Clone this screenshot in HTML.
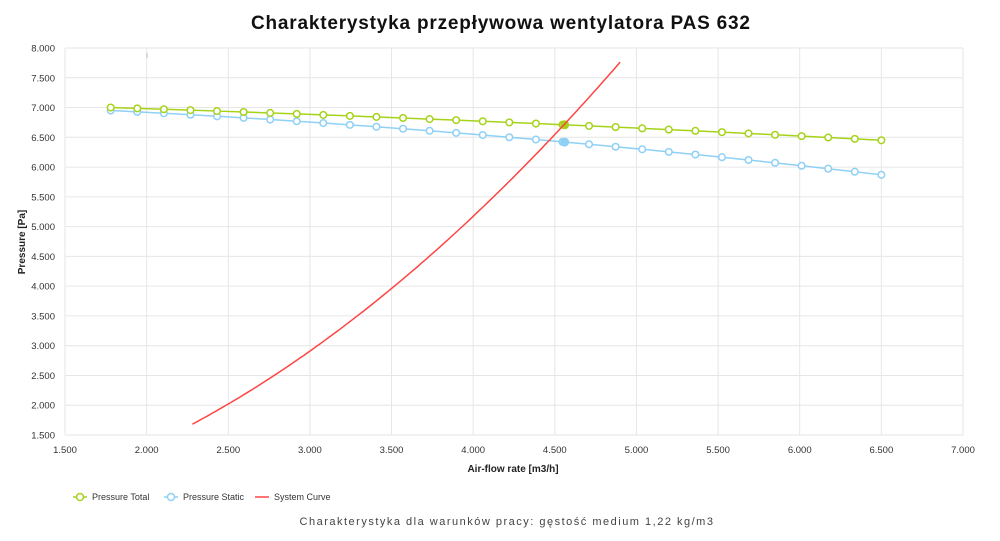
<!DOCTYPE html>
<html><head><meta charset="utf-8"><style>
html,body{margin:0;padding:0;background:#fff;}
svg{display:block;font-family:"Liberation Sans","DejaVu Sans",sans-serif;}
</style></head><body>
<svg id="s" width="1000" height="541" xmlns="http://www.w3.org/2000/svg">
<text x="251" y="29" font-size="19" font-weight="bold" fill="#111" textLength="499" lengthAdjust="spacing">Charakterystyka przepływowa wentylatora PAS 632</text>
<g id="grid"></g>
<g id="series"></g>
<text x="0" y="0" transform="translate(25,242) rotate(-90)" text-anchor="middle" font-size="10" font-weight="bold" fill="#222">Pressure [Pa]</text>
<text x="513" y="472" text-anchor="middle" font-size="10" font-weight="bold" fill="#222">Air-flow rate [m3/h]</text>
<g font-size="9" fill="#333">
<line x1="73" y1="497" x2="87" y2="497" stroke="#a6d31a" stroke-width="1.5"/><circle cx="80" cy="497" r="3.5" fill="#fff" stroke="#a6d31a" stroke-width="1.5"/>
<text x="92" y="500">Pressure Total</text>
<line x1="164" y1="497" x2="178" y2="497" stroke="#8fd0f5" stroke-width="1.5"/><circle cx="171" cy="497" r="3.5" fill="#fff" stroke="#8fd0f5" stroke-width="1.5"/>
<text x="183" y="500">Pressure Static</text>
<line x1="255" y1="497" x2="269" y2="497" stroke="#f44" stroke-width="1.5"/>
<text x="274" y="500">System Curve</text>
</g>
<text x="507" y="525" text-anchor="middle" font-size="11" fill="#444" letter-spacing="1.5">Charakterystyka dla warunków pracy: gęstość medium 1,22 kg/m3</text>
</svg>
<script>
var NS="http://www.w3.org/2000/svg";
function X(v){return 65+(v-1500)*898/5500;}
function Y(v){return 48+(8000-v)*387/6500;}
function el(p,t,a){var e=document.createElementNS(NS,t);for(var k in a)e.setAttribute(k,a[k]);p.appendChild(e);return e;}
function fmt(v){return (v/1000).toFixed(3);}
var g=document.getElementById("grid");
for(var v=1500;v<=8000;v+=500){el(g,"line",{x1:65,x2:963,y1:Y(v),y2:Y(v),stroke:"#e6e6e6","stroke-width":1});
var t=el(g,"text",{x:55,y:Y(v)+3.5,"text-anchor":"end","font-size":"9.5",fill:"#333"});t.textContent=fmt(v);}
for(var v=1500;v<=7000;v+=500){el(g,"line",{x1:X(v),x2:X(v),y1:48,y2:435,stroke:"#e6e6e6","stroke-width":1});
var t=el(g,"text",{x:X(v),y:453,"text-anchor":"middle","font-size":"9.5",fill:"#333"});t.textContent=fmt(v);}
el(g,"line",{x1:147,x2:147,y1:53,y2:58,stroke:"#bbb","stroke-width":1});
function lag(p,x){var s=0;for(var i=0;i<3;i++){var t=p[i][1];for(var j=0;j<3;j++)if(j!=i)t*=(x-p[j][0])/(p[i][0]-p[j][0]);s+=t;}return s;}
var tot=[[1780,7000],[4560,6710],[6500,6450]],sta=[[1780,6950],[4560,6420],[6500,5870]];
var S=document.getElementById("series");
function series(p,c){var pts=[];for(var i=0;i<30;i++){var x=1780+i*(6500-1780)/29;var y=lag(p,x);pts.push([X(x),Y(y)]);}
el(S,"polyline",{points:pts.map(function(a){return a.join(",")}).join(" "),fill:"none",stroke:c,"stroke-width":1.5});
pts.forEach(function(a){el(S,"circle",{cx:a[0],cy:a[1],r:3.3,fill:"#fff",stroke:c,"stroke-width":1.5});});
el(S,"circle",{cx:X(4560),cy:Y(lag(p,4560)),r:4,fill:c,stroke:c});}
series(sta,"#8fd0f5");series(tot,"#a6d31a");
var d="";for(var q=2280;q<=4910;q+=20){d+=(d?"L":"M")+X(q).toFixed(1)+","+Y(3.233e-4*q*q).toFixed(1);}
el(S,"path",{d:d,fill:"none",stroke:"#f44","stroke-width":1.5});
</script>
</body></html>
